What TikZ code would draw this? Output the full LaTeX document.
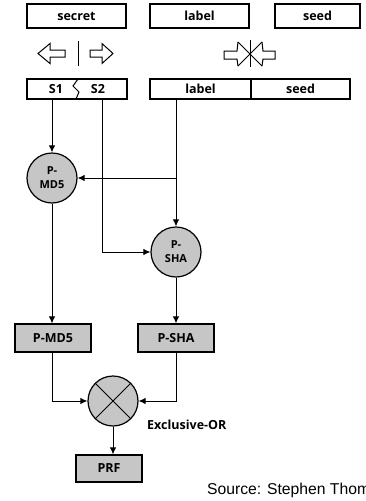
\documentclass[tikz,border=0pt]{standalone}
\usepackage{fontspec}
\setmainfont{Liberation Sans}
\newfontfamily\labelfont{Open Sans}
\usetikzlibrary{arrows.meta}

\definecolor{boxgray}{HTML}{C6C6C6}

\tikzset{
  x=1pt, y=-1pt,
  lbl/.style={font=\labelfont\fontsize{12.5}{14}\selectfont\bfseries},
  line/.style={line width=1pt, draw=black},
  arr/.style={line, -{Latex[length=7pt,width=6.5pt]}},
  field/.style={draw, line width=1.2pt, rectangle, inner sep=0pt,
                minimum height=24pt, lbl},
  shaded/.style={field, fill=boxgray, minimum height=28pt},
  fn/.style={draw, line width=1.2pt, circle, fill=boxgray, minimum size=50pt,
             inner sep=0pt, align=center,
             font=\labelfont\fontsize{11}{14}\selectfont\bfseries},
  hollow/.style={line width=1pt, line join=miter},
}

\begin{document}
\begin{tikzpicture}
\useasboundingbox (0,0) rectangle (366,501);

% input fields
\node[field, minimum width=99pt] (secret) at (76.5,16) {secret};
\node[field, minimum width=99pt] (label)  at (199.5,16) {label};
\node[field, minimum width=85pt] (seed)   at (317.5,16) {seed};

% split of the secret
\draw[hollow] (38,53.5) -- (50,43.5) -- (50,50) -- (65,50) -- (65,57) -- (50,57) -- (50,63.5) -- cycle;
\draw[hollow] (113,53.5) -- (102,43.5) -- (102,50) -- (90,50) -- (90,57) -- (102,57) -- (102,63.5) -- cycle;
\draw[line] (78,41) -- (78,66);

% concatenation of label and seed
\draw[hollow] (238,42) -- (237,51) -- (224,51) -- (224,59) -- (237,59) -- (238,66);
\draw[hollow] (262,42) -- (263,51) -- (275,51) -- (275,59) -- (263,59) -- (262,66);
\draw[hollow] (238,42) -- (262,66);
\draw[hollow] (238,66) -- (262,42);
\draw[line] (250,40) -- (250,67);

% split secret S1 | S2
\node[field, minimum width=100pt, minimum height=20pt] (sbox) at (77,89) {};
\node[lbl] (s1) at (56,89) {S1};
\node[lbl] (s2) at (98,89) {S2};
\draw[line] (78,79) -- (73,86) -- (79,92) -- (76,99);

% label || seed
\node[field, minimum width=101pt, minimum height=20pt] (labelB) at (200.5,89) {label};
\node[field, minimum width=99pt, minimum height=20pt] (seedB) at (300.5,89) {seed};

% hash functions
\node[fn] (md5) at (52,178) {P-\\MD5};
\node[fn] (sha) at (176,252) {P-\\SHA};
\coordinate (s2tap) at (102,99);

\draw[arr] (sbox.south -| md5.north) -- (md5.north);
\draw[arr] (labelB.south -| sha.north) -- (sha.north);
\draw[arr] (md5 -| sha) -- (md5.east);
\draw[arr] (s2tap) |- (sha.west);

% outputs
\node[shaded, minimum width=76pt] (pmd5) at (53,338) {P-MD5};
\node[shaded, minimum width=76pt] (psha) at (176,338) {P-SHA};
\draw[arr] (md5.south) -- (md5.south |- pmd5.north);
\draw[arr] (sha.south) -- (sha.south |- psha.north);

% exclusive or
\node[draw, line width=1.2pt, circle, fill=boxgray, minimum size=50pt, inner sep=0pt] (xor) at (113,401) {};
\draw[line] (xor.north west) -- (xor.south east);
\draw[line] (xor.south west) -- (xor.north east);
\node[anchor=west, inner sep=0pt, lbl] (xorlbl) at (147,425) {Exclusive-OR};

\draw[arr] (md5.south |- pmd5.south) |- (xor.west);
\draw[arr] (sha.south |- psha.south) |- (xor.east);

\node[shaded, minimum width=66pt, minimum height=27pt] (prf) at (109,468.5) {PRF};
\draw[arr] (xor.south) -- (xor.south |- prf.north);

% credit line, running off the right edge
\begin{scope}
  \clip (0,0) rectangle (366,501);
  \node[anchor=base west, inner sep=0pt, font=\fontsize{15.7}{18}\selectfont] (src) at (207,494) {Source: Stephen Thomas};
\end{scope}
\end{tikzpicture}
\end{document}
